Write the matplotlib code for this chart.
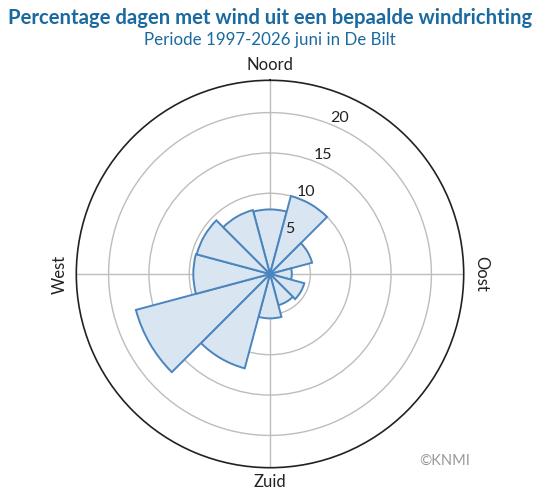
import matplotlib
matplotlib.use('Agg')
import matplotlib.pyplot as plt
import numpy as np

# Data
directions_deg = [0, 30, 60, 90, 120, 150, 180, 210, 240, 270, 300, 330]
percentages = [8.0, 10.0, 5.4, 2.7, 4.4, 4.0, 5.5, 12.1, 17.2, 9.5, 9.4, 8.2]
ring_values = [5, 10, 15, 20]
compass_angles = [0, 90, 180, 270]
compass_labels = ['Noord', 'Oost', 'Zuid', 'West']

title = 'Percentage dagen met wind uit een bepaalde windrichting'
subtitle = 'Periode 1997-2026 juni in De Bilt'

FONT = ['Lato', 'DejaVu Sans']
plt.rcParams['font.family'] = FONT
BLUE = '#1a6aa0'

W, H = 540, 500
fig = plt.figure(figsize=(W / 100, H / 100), dpi=100)
cx, cy, R = 270, 274, 193.7
ax = fig.add_axes([(cx - R) / W, (H - cy - R) / H, 2 * R / W, 2 * R / H], projection='polar')
ax.set_theta_zero_location('N')
ax.set_theta_direction(-1)
ax.set_ylim(0, 24)

theta = np.deg2rad(directions_deg)
width = np.deg2rad(30)
ax.bar(theta, percentages, width=width, bottom=0, align='center',
       facecolor='#d9e5f0', edgecolor='#4a85bd', linewidth=1.4, zorder=3)

ax.set_yticks(ring_values)
ax.set_yticklabels([])
ax.set_xticks(np.deg2rad(compass_angles))
ax.set_xticklabels([])
ax.grid(True, color='#bdbdbd', linewidth=1.0)
ax.spines['polar'].set_color('#222222')
ax.spines['polar'].set_linewidth(1.2)
ax.tick_params(length=0)

for r in ring_values:
    ax.text(np.deg2rad(24), r + 1.1, str(r), ha='center', va='center',
            fontsize=11.5, color='#222222', zorder=5)

# compass labels
pos = {'Noord': (cx, 65, 0), 'Oost': (481, cy, -90), 'Zuid': (cx, 482, 0), 'West': (60, cy, 90)}
for lab in compass_labels:
    x, y, rot = pos[lab]
    fig.text(x / W, 1 - y / H, lab, ha='center', va='center', rotation=rot,
             fontsize=12, color='#222222')

fig.text(0.5, 1 - 18 / H, title, ha='center', va='center', fontsize=14.6,
         fontweight='bold', color=BLUE)
fig.text(0.5, 1 - 40 / H, subtitle, ha='center', va='center', fontsize=12.2,
         color=BLUE)
fig.text(445 / W, 1 - 461 / H, '©KNMI', ha='center', va='center', fontsize=10.5,
         color='#999999')

fig.savefig('out.png', dpi=100)
